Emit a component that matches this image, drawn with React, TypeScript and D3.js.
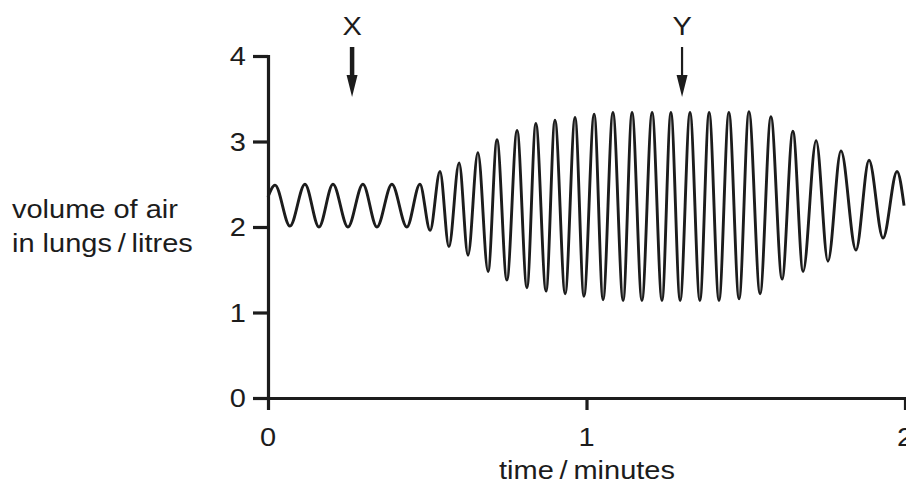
import * as d3 from "d3";
import { useEffect, useRef } from "react";

// breathing trace: time (minutes) and volume (litres)
// at the start, each peak / trough, and the end
const timeMin = [
  0.0, 0.022, 0.069, 0.116, 0.16, 0.204, 0.251, 0.298, 0.342, 0.389, 0.436, 0.477,
  0.509, 0.54, 0.568, 0.6, 0.628, 0.659, 0.691, 0.719, 0.75, 0.782, 0.813, 0.841,
  0.873, 0.901, 0.933, 0.964, 0.992, 1.024, 1.052, 1.083, 1.115, 1.143, 1.174, 1.206,
  1.237, 1.265, 1.294, 1.325, 1.356, 1.385, 1.416, 1.447, 1.479, 1.51, 1.545, 1.579,
  1.614, 1.648, 1.68, 1.721, 1.758, 1.799, 1.846, 1.887, 1.931, 1.975, 1.997,
];
const volumeL = [
  2.35, 2.49, 2.01, 2.5, 2.0, 2.5, 2.0, 2.5, 2.0, 2.5, 2.0, 2.5,
  1.96, 2.65, 1.77, 2.75, 1.67, 2.87, 1.48, 3.02, 1.38, 3.13, 1.29, 3.21,
  1.25, 3.25, 1.22, 3.28, 1.19, 3.32, 1.15, 3.34, 1.14, 3.34, 1.14, 3.34,
  1.14, 3.34, 1.14, 3.34, 1.14, 3.34, 1.14, 3.34, 1.16, 3.35, 1.22, 3.29,
  1.39, 3.12, 1.48, 3.01, 1.6, 2.89, 1.73, 2.78, 1.87, 2.65, 2.25,
];

const yTicks = [0, 1, 2, 3, 4];
const xTicks = [0, 1, 2];
const markerLabels = ["X", "Y"];
const markerTimes = [0.264, 1.3];
const markerHeavy = [true, false];

const yTitle = ["volume of air", "in lungs\u2009/\u2009litres"];
const xTitle = "time\u2009/\u2009minutes";

const W = 906;
const H = 489;
const ink = "#1c1c1c";
const font = "'Liberation Sans', Arial, sans-serif";
const sx = 1.16; // picture is a bit stretched sideways

const App = () => {
  const svgRef = useRef<SVGSVGElement | null>(null);

  useEffect(() => {
    if (!svgRef.current) return;
    const svg = d3.select(svgRef.current);
    svg.selectAll("*").remove();

    const x = d3.scaleLinear().domain([0, 2]).range([268, 905]);
    const y = d3.scaleLinear().domain([0, 4]).range([398, 56]);

    const text = (t: string, px: number, py: number, anchor: string, size: number) =>
      svg.append("text")
        .attr("transform", `translate(${px},${py}) scale(${sx},1)`)
        .attr("text-anchor", anchor)
        .attr("font-family", font)
        .attr("font-size", size)
        .attr("fill", ink)
        .text(t);

    // axes
    const yAxis = svg.append("g")
      .attr("transform", `translate(${x(0)},0)`)
      .call(d3.axisLeft(y).tickValues(yTicks).tickSize(15).tickSizeOuter(0).tickFormat(() => ""));
    const xAxis = svg.append("g")
      .attr("transform", `translate(0,${y(0)})`)
      .call(d3.axisBottom(x).tickValues(xTicks).tickSize(12).tickSizeOuter(0).tickFormat(() => ""));
    [yAxis, xAxis].forEach(g => {
      g.selectAll("path, line").attr("stroke", ink).attr("stroke-width", 3.2);
      g.select(".domain").attr("stroke-linecap", "square");
    });

    yTicks.forEach(v => text(String(v), 246, y(v) + 9, "end", 25));
    xTicks.forEach(v => text(String(v), x(v), 446, "middle", 25));

    // titles
    text(yTitle[0], 12, 218, "start", 25);
    text(yTitle[1], 12, 252, "start", 25);
    text(xTitle, 587, 479, "middle", 25);

    // trace
    const pts: [number, number][] = timeMin.map((t, i) => [t, volumeL[i]]);
    const line = d3.line<[number, number]>()
      .x(d => x(d[0]))
      .y(d => y(d[1]))
      .curve(d3.curveMonotoneX);
    svg.append("path")
      .attr("d", line(pts))
      .attr("fill", "none")
      .attr("stroke", ink)
      .attr("stroke-width", 2.9);

    // X / Y arrows
    markerLabels.forEach((lab, i) => {
      const cx = x(markerTimes[i]);
      text(lab, cx, 35, "middle", 25);
      svg.append("line")
        .attr("x1", cx).attr("x2", cx)
        .attr("y1", 47).attr("y2", 78)
        .attr("stroke", ink)
        .attr("stroke-width", markerHeavy[i] ? 4.5 : 2.2);
      svg.append("path")
        .attr("d", `M${cx - 5.5},75 L${cx + 5.5},75 L${cx},97 Z`)
        .attr("fill", ink);
    });
  }, []);

  return (
    <svg
      ref={svgRef}
      width={W}
      height={H}
      style={{ position: "absolute", left: 0, top: 0, background: "#fff" }}
    />
  );
};

export default App;
